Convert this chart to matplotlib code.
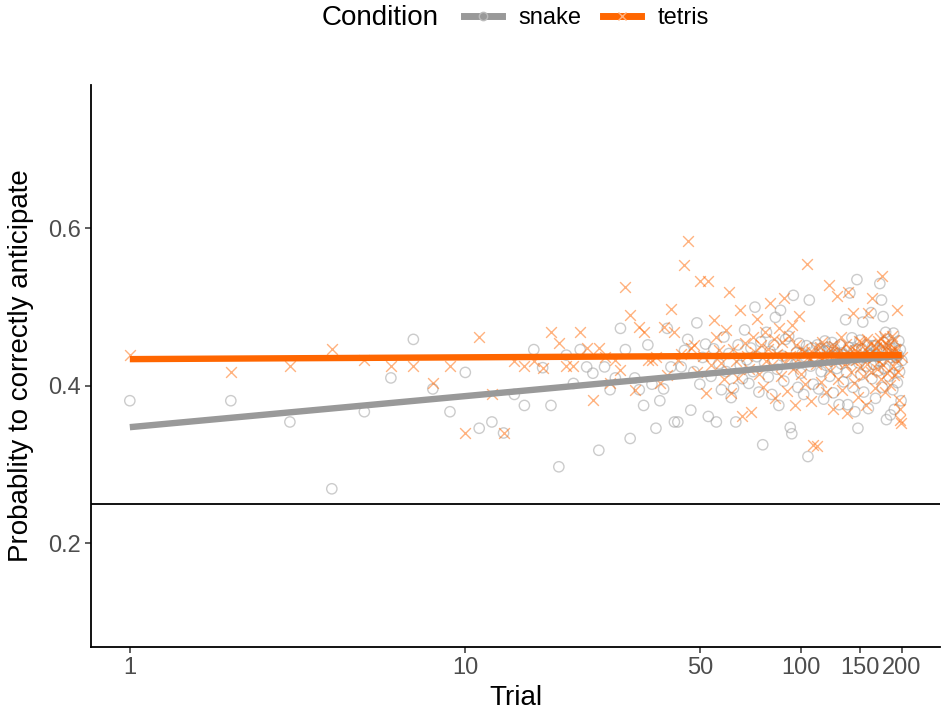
import numpy as np
import matplotlib
matplotlib.use("Agg")
import matplotlib.pyplot as plt
from matplotlib.lines import Line2D

plt.rcParams["font.family"] = ["Liberation Sans", "DejaVu Sans"]

# Per-trial probability of correct anticipation, one value per trial (1..200)
trials = np.arange(1, 201)

snake = [
    0.381, 0.381, 0.354, 0.269, 0.367, 0.410, 0.459, 0.396, 0.367, 0.417,
    0.346, 0.354, 0.340, 0.389, 0.375, 0.446, 0.423, 0.375, 0.297, 0.439,
    0.403, 0.446, 0.424, 0.416, 0.318, 0.424, 0.395, 0.410, 0.473, 0.446,
    0.333, 0.410, 0.395, 0.375, 0.452, 0.402, 0.346, 0.381, 0.396, 0.473,
    0.424, 0.354, 0.354, 0.424, 0.445, 0.459, 0.369, 0.418, 0.480, 0.402,
    0.436, 0.453, 0.361, 0.412, 0.447, 0.354, 0.428, 0.395, 0.462, 0.418,
    0.441, 0.385, 0.397, 0.354, 0.452, 0.426, 0.409, 0.471, 0.433, 0.403,
    0.448, 0.418, 0.500, 0.437, 0.392, 0.456, 0.325, 0.429, 0.468, 0.411,
    0.444, 0.389, 0.452, 0.487, 0.421, 0.375, 0.496, 0.438, 0.406, 0.459,
    0.431, 0.463, 0.347, 0.339, 0.515, 0.427, 0.442, 0.398, 0.454, 0.416,
    0.441, 0.389, 0.437, 0.451, 0.310, 0.509, 0.425, 0.448, 0.402, 0.436,
    0.434, 0.452, 0.396, 0.447, 0.418, 0.443, 0.383, 0.457, 0.426, 0.444,
    0.449, 0.412, 0.438, 0.455, 0.391, 0.447, 0.438, 0.422, 0.441, 0.376,
    0.452, 0.428, 0.442, 0.405, 0.439, 0.484, 0.417, 0.376, 0.449, 0.518,
    0.433, 0.461, 0.398, 0.445, 0.367, 0.447, 0.535, 0.346, 0.429, 0.458,
    0.414, 0.447, 0.481, 0.392, 0.436, 0.437, 0.425, 0.452, 0.371, 0.441,
    0.438, 0.493, 0.409, 0.451, 0.427, 0.451, 0.384, 0.445, 0.437, 0.419,
    0.447, 0.530, 0.431, 0.509, 0.398, 0.488, 0.455, 0.422, 0.468, 0.357,
    0.441, 0.459, 0.412, 0.448, 0.363, 0.436, 0.452, 0.395, 0.467, 0.370,
    0.448, 0.426, 0.436, 0.404, 0.439, 0.457, 0.418, 0.446, 0.381, 0.432,
]

tetris = [
    0.439, 0.418, 0.425, 0.447, 0.433, 0.425, 0.425, 0.404, 0.425, 0.340,
    0.462, 0.390, 0.340, 0.431, 0.425, 0.431, 0.423, 0.469, 0.454, 0.425,
    0.425, 0.469, 0.448, 0.382, 0.448, 0.436, 0.403, 0.433, 0.420, 0.526,
    0.490, 0.395, 0.475, 0.469, 0.433, 0.433, 0.437, 0.404, 0.475, 0.414,
    0.497, 0.469, 0.433, 0.440, 0.554, 0.584, 0.448, 0.452, 0.417, 0.533,
    0.438, 0.391, 0.533, 0.426, 0.484, 0.462, 0.445, 0.429, 0.408, 0.471,
    0.519, 0.391, 0.447, 0.432, 0.410, 0.496, 0.361, 0.455, 0.438, 0.421,
    0.367, 0.462, 0.443, 0.485, 0.415, 0.452, 0.398, 0.468, 0.431, 0.447,
    0.505, 0.426, 0.459, 0.384, 0.441, 0.473, 0.412, 0.456, 0.511, 0.429,
    0.394, 0.463, 0.438, 0.477, 0.421, 0.376, 0.452, 0.434, 0.489, 0.415,
    0.447, 0.443, 0.402, 0.555, 0.436, 0.433, 0.381, 0.443, 0.325, 0.449,
    0.428, 0.323, 0.437, 0.449, 0.405, 0.456, 0.437, 0.431, 0.392, 0.441,
    0.528, 0.419, 0.451, 0.443, 0.371, 0.451, 0.432, 0.514, 0.409, 0.433,
    0.446, 0.462, 0.395, 0.437, 0.428, 0.453, 0.366, 0.519, 0.441, 0.447,
    0.417, 0.433, 0.492, 0.404, 0.446, 0.433, 0.443, 0.386, 0.457, 0.424,
    0.456, 0.439, 0.412, 0.441, 0.447, 0.375, 0.459, 0.428, 0.493, 0.441,
    0.453, 0.418, 0.511, 0.436, 0.437, 0.397, 0.448, 0.449, 0.421, 0.457,
    0.432, 0.461, 0.409, 0.451, 0.540, 0.427, 0.463, 0.392, 0.445, 0.453,
    0.416, 0.452, 0.437, 0.444, 0.401, 0.443, 0.463, 0.425, 0.458, 0.414,
    0.447, 0.446, 0.433, 0.496, 0.418, 0.382, 0.370, 0.357, 0.353, 0.437,
]

x_ticks = [1, 10, 50, 100, 150, 200]
y_ticks = [0.2, 0.4, 0.6]
chance = 0.25

grey = "#999999"
orange = "#FF6600"

fig = plt.figure(figsize=(9.47, 7.2), dpi=100)
ax = fig.add_axes([0.096, 0.101, 0.897, 0.781])

ax.scatter(trials, snake, s=55, facecolors="none", edgecolors=grey,
           linewidths=1.0, alpha=0.5, zorder=2)
ax.scatter(trials, tetris, s=60, marker="x", color=orange,
           linewidths=1.0, alpha=0.5, zorder=2)

# linear fit against log trial, like a smooth on a log axis
logt = np.log10(trials)
for vals, col in [(snake, grey), (tetris, orange)]:
    b, a = np.polyfit(logt, vals, 1)
    ax.plot(trials, a + b * logt, color=col, lw=4.6,
            solid_capstyle="butt", zorder=3)

ax.axhline(chance, color="black", lw=1.3, zorder=1)

ax.set_xscale("log")
ax.set_xlim(10 ** -0.116, 10 ** 2.416)
ax.set_ylim(0.0675, 0.7825)
ax.set_xticks(x_ticks)
ax.set_xticklabels([str(t) for t in x_ticks])
ax.xaxis.set_minor_locator(matplotlib.ticker.NullLocator())
ax.set_yticks(y_ticks)
ax.set_yticklabels([f"{v:.1f}" for v in y_ticks])

for s in ["top", "right"]:
    ax.spines[s].set_visible(False)
for s in ["left", "bottom"]:
    ax.spines[s].set_linewidth(1.3)
ax.tick_params(axis="both", length=4, width=1.1, color="#333333",
               labelcolor="#4D4D4D", labelsize=17, pad=3)

ax.set_xlabel("Trial", fontsize=20, labelpad=4)
ax.set_ylabel("Probablity to correctly anticipate", fontsize=20, labelpad=10)

fig.text(322 / 947, 1 - 18 / 720, "Condition", fontsize=20,
         ha="left", va="center")
handles = [
    Line2D([], [], color=grey, lw=5, marker="o", markersize=6,
           markerfacecolor="none", markeredgecolor="#bbbbbb"),
    Line2D([], [], color=orange, lw=5, marker="x", markersize=6,
           markeredgecolor="#ffb280"),
]
fig.legend(handles, ["snake", "tetris"], loc="center left",
           bbox_to_anchor=(455 / 947, 1 - 18 / 720), ncol=2, frameon=False,
           fontsize=17, handlelength=1.6, handletextpad=0.7,
           columnspacing=0.9, borderaxespad=0)

fig.savefig("out.png", dpi=100)
